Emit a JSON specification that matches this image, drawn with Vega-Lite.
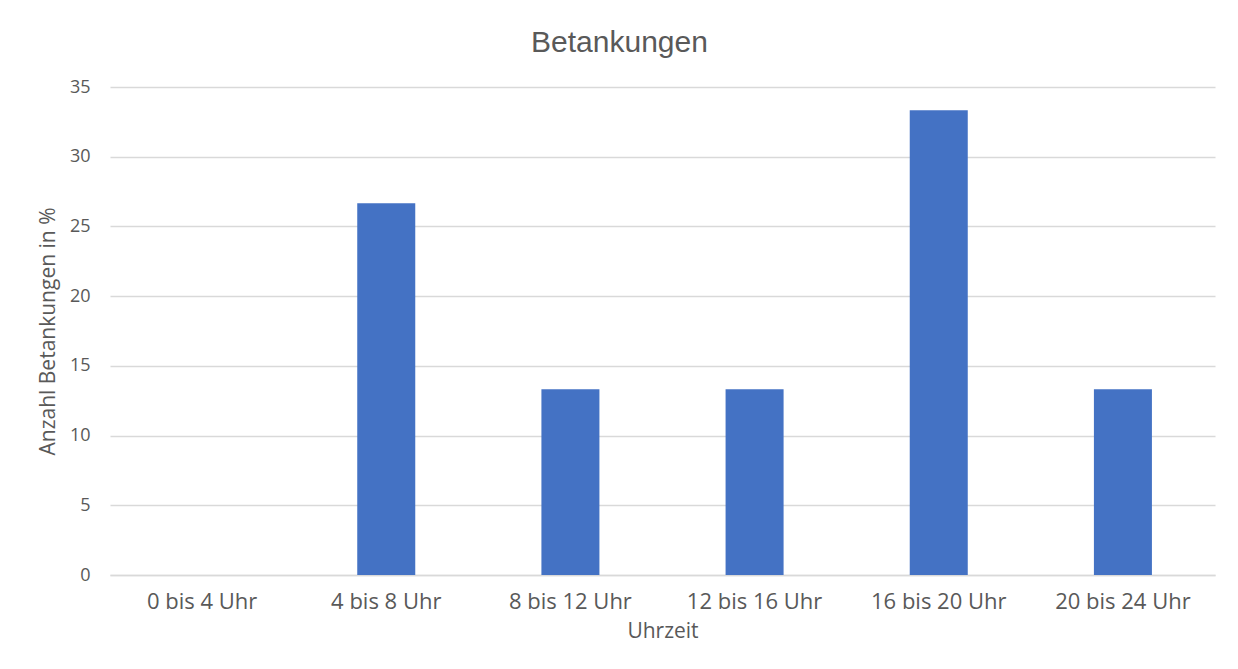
{
  "$schema": "https://vega.github.io/schema/vega-lite/v6.json",
  "autosize": {"type": "none"},
  "padding": {"left": 110, "top": 87, "right": 23, "bottom": 94},
  "width": 1105,
  "height": 488,
  "background": "white",
  "title": {
    "text": "Betankungen",
    "font": "Liberation Sans",
    "fontSize": 30,
    "fontWeight": "normal",
    "color": "#595959",
    "anchor": "middle",
    "dx": -43,
    "offset": 20
  },
  "data": {
    "values": [
      {"Uhrzeit": "0 bis 4 Uhr", "Anteil": 0},
      {"Uhrzeit": "4 bis 8 Uhr", "Anteil": 26.67},
      {"Uhrzeit": "8 bis 12 Uhr", "Anteil": 13.33},
      {"Uhrzeit": "12 bis 16 Uhr", "Anteil": 13.33},
      {"Uhrzeit": "16 bis 20 Uhr", "Anteil": 33.33},
      {"Uhrzeit": "20 bis 24 Uhr", "Anteil": 13.33}
    ]
  },
  "mark": {"type": "bar", "color": "#4472C4"},
  "encoding": {
    "x": {
      "field": "Uhrzeit",
      "type": "nominal",
      "sort": null,
      "title": "Uhrzeit",
      "scale": {"paddingInner": 0.685, "paddingOuter": 0.3425},
      "axis": {
        "labelAngle": 0,
        "ticks": false,
        "domain": true,
        "domainColor": "#d9d9d9",
        "domainWidth": 1.5,
        "labelFontSize": 22,
        "labelPadding": 16,
        "titlePadding": 8
      }
    },
    "y": {
      "field": "Anteil",
      "type": "quantitative",
      "title": "Anzahl Betankungen in %",
      "scale": {"domain": [0, 35], "nice": false},
      "axis": {
        "values": [0, 5, 10, 15, 20, 25, 30, 35],
        "ticks": false,
        "domain": false,
        "labelFontSize": 18,
        "labelPadding": 20,
        "titlePadding": 11,
        "gridColor": "#d9d9d9",
        "gridWidth": 1.5
      }
    }
  },
  "config": {
    "view": {"stroke": null},
    "axis": {
      "labelFont": "Open Sans",
      "labelColor": "#595959",
      "titleFont": "Open Sans",
      "titleFontSize": 21,
      "titleFontWeight": "normal",
      "titleColor": "#595959"
    }
  }
}
